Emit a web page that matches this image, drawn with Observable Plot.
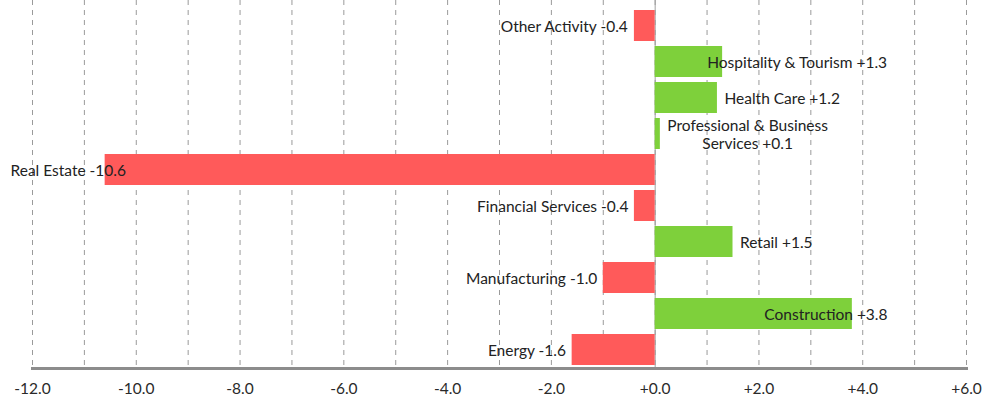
<!DOCTYPE html>
<html>
<head>
<meta charset="utf-8">
<script src="https://cdn.jsdelivr.net/npm/d3@7"></script>
<script src="https://cdn.jsdelivr.net/npm/@observablehq/plot@0.6"></script>
<style>
  html, body { margin: 0; padding: 0; background: #fff; }
  #chart { width: 984px; height: 400px; }
</style>
</head>
<body>
<div id="chart"></div>
<script>
const categories = ["Other Activity", "Hospitality & Tourism", "Health Care", "Professional & Business Services", "Real Estate", "Financial Services", "Retail", "Manufacturing", "Construction", "Energy"];
const values = [-0.4, 1.3, 1.2, 0.1, -10.6, -0.4, 1.5, -1.0, 3.8, -1.6];
const tickValues = [-12, -10, -8, -6, -4, -2, 0, 2, 4, 6];
const gridValues = d3.range(-12, 7, 1);

const W = 984, H = 400, ML = 32, MR = 18, MT = 7, MB = 32;
const X0 = -12, X1 = 6;
const FS = 15.5;
const ppu = (W - ML - MR) / (X1 - X0);
const fmt = v => (v >= 0 ? "+" : "") + v.toFixed(1);

function wrap(label) {
  if (label.length <= 30) return label;
  const words = label.split(" ");
  let first = "";
  let i = 0;
  while (i < words.length && (first + (first ? " " : "") + words[i]).length <= 24) {
    first += (first ? " " : "") + words[i];
    i++;
  }
  return first + "\n" + words.slice(i).join(" ");
}

const ctx = document.createElement("canvas").getContext("2d");
ctx.font = FS + "px Lato";
const measure = s => Math.max(...s.split("\n").map(l => ctx.measureText(l).width));
const px = v => ML + (v - X0) * ppu;
const toData = p => (p - ML) / ppu + X0;

const data = categories.map((name, i) => {
  const v = values[i];
  const label = wrap(name + " " + fmt(v));
  const w = measure(label);
  let start;
  if (v < 0) {
    start = px(v) - 6 - w;
    if (start < 10) start = 10;
  } else {
    start = px(v) + 7;
    if (start + w > 887) start = 887 - w;
  }
  return {name, value: v, label, lx: toData(start + w / 2)};
});

const chart = Plot.plot({
  width: W, height: H,
  marginLeft: ML, marginRight: MR, marginTop: MT, marginBottom: MB,
  style: {fontFamily: "Lato, 'Open Sans', sans-serif", fontSize: FS + "px", color: "#2a2a2a", background: "#fff"},
  x: {domain: [X0, X1], label: null},
  y: {domain: categories, paddingInner: 0.135, paddingOuter: 0.0675, axis: null},
  color: {domain: ["neg", "pos"], range: ["#ff5a5a", "#7ed03b"]},
  marks: [
    Plot.ruleX(gridValues, {stroke: "#9a9a9a", strokeDasharray: "5,5", insetTop: -MT}),
    Plot.ruleX([0], {stroke: "#a0a0a0", insetTop: -MT}),
    Plot.barX(data, {x: "value", y: "name", fill: d => d.value < 0 ? "neg" : "pos"}),
    Plot.frame({anchor: "bottom", stroke: "#8c8c8c", strokeWidth: 3}),
    Plot.axisX({ticks: tickValues, tickFormat: fmt, tickSize: 0, tickPadding: 14, fontSize: FS, label: null}),
    Plot.text(data, {x: "lx", y: "name", text: "label", textAnchor: "middle", lineHeight: 1.2, fill: "#222", fontSize: FS})
  ]
});
document.getElementById("chart").appendChild(chart);
</script>
</body>
</html>
